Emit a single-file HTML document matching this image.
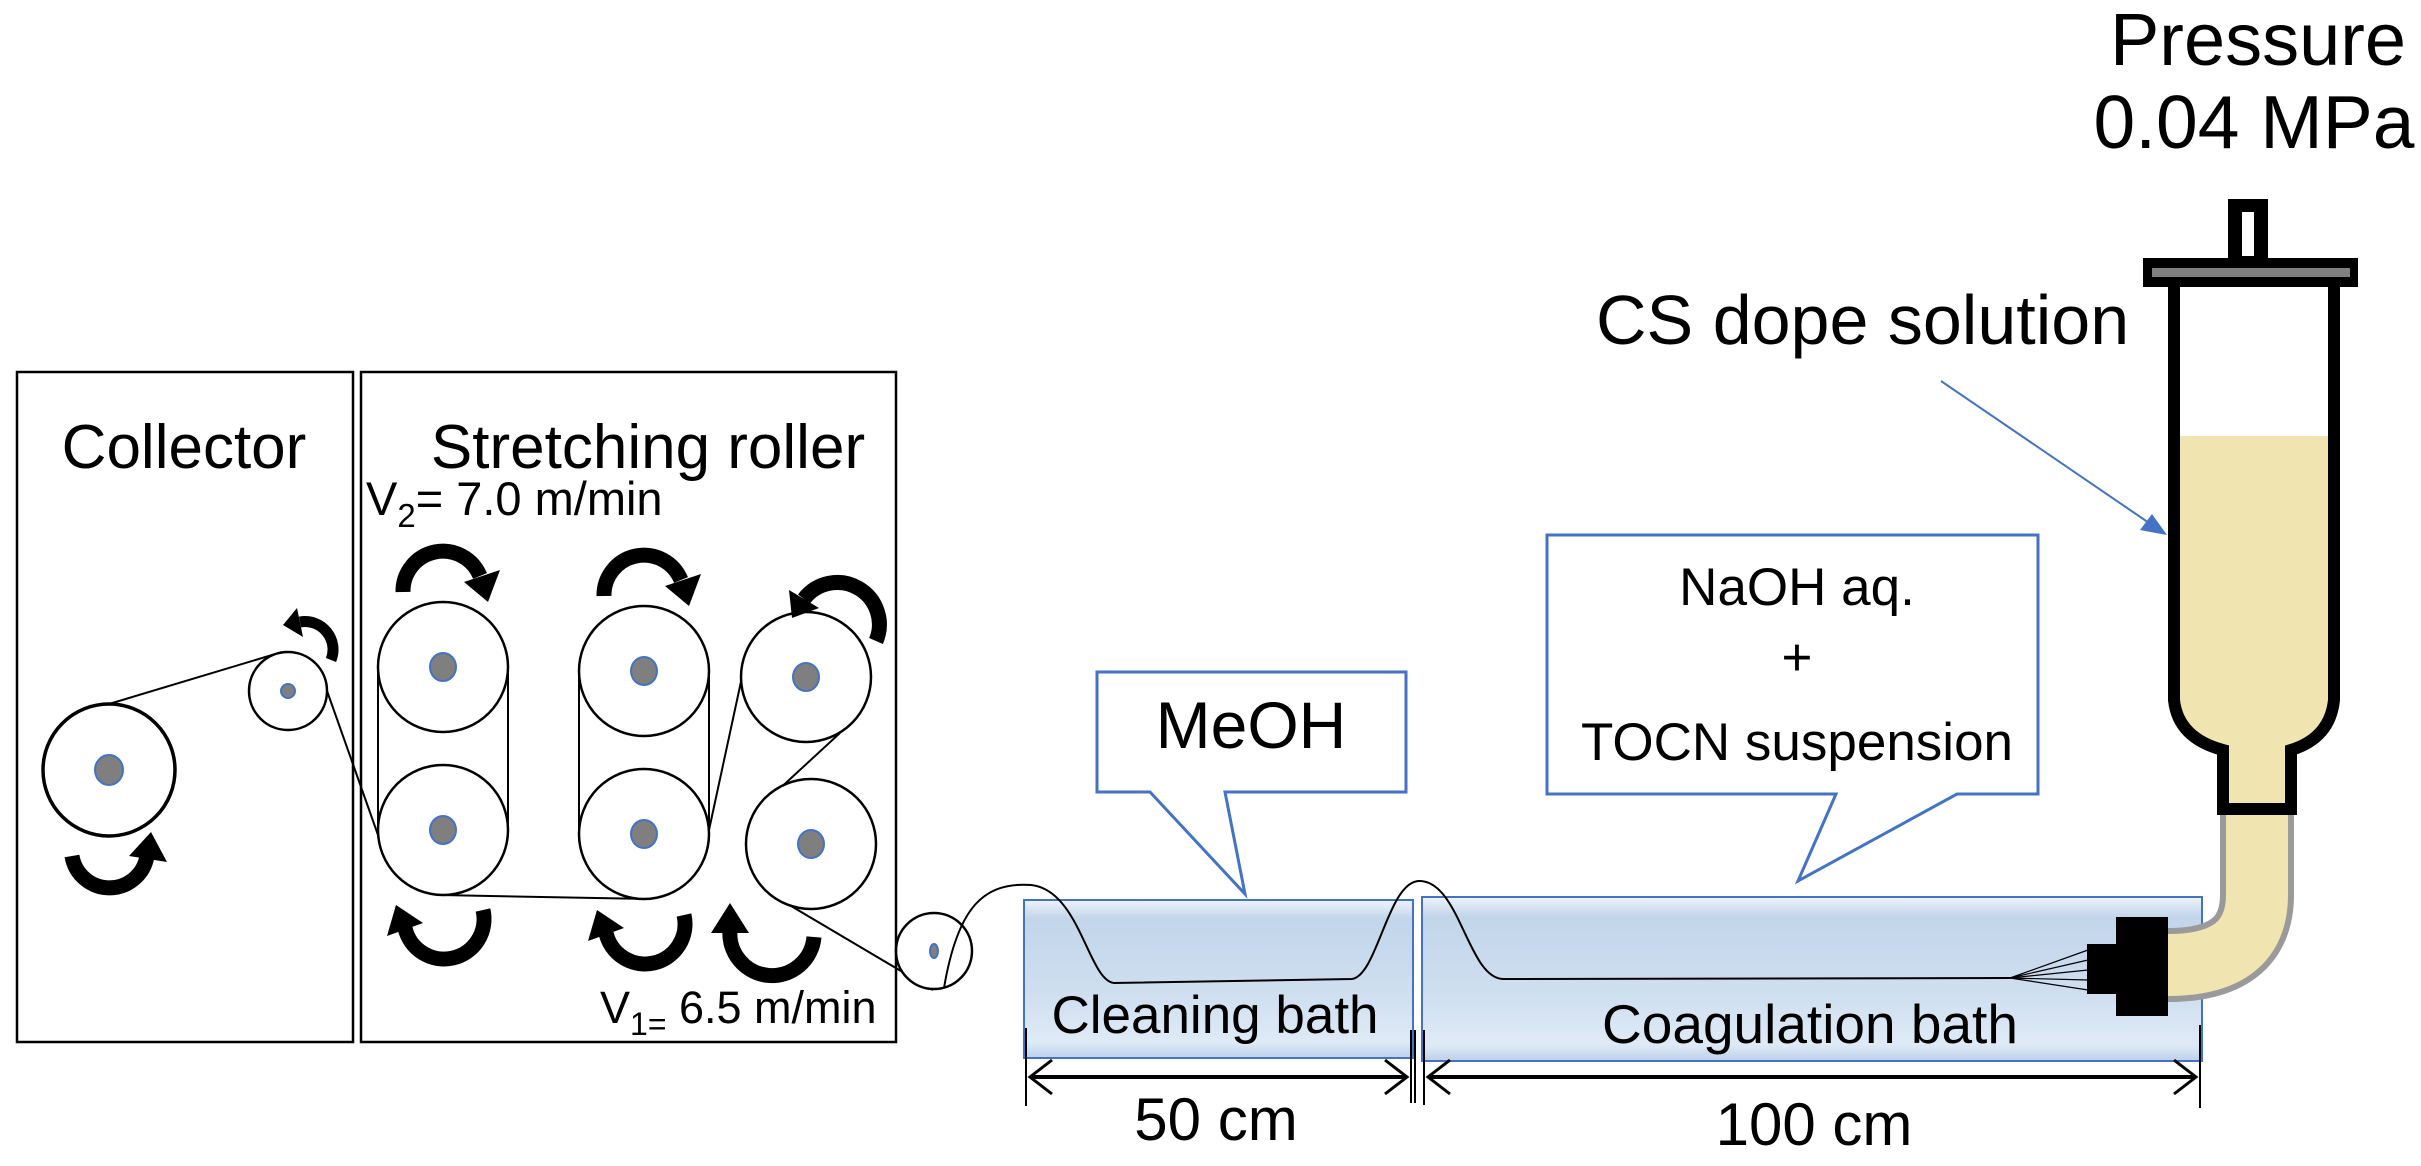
<!DOCTYPE html>
<html><head><meta charset="utf-8"><style>
html,body{margin:0;padding:0;background:#fff;}
svg{display:block;}
text{font-family:"Liberation Sans",Arial,sans-serif;fill:#000;}
</style></head><body>
<svg width="2421" height="1166" viewBox="0 0 2421 1166" xmlns="http://www.w3.org/2000/svg">
<defs>
<linearGradient id="bath" x1="0" y1="0" x2="0" y2="1">
<stop offset="0" stop-color="#eef3fa"/>
<stop offset="0.12" stop-color="#c2d5ea"/>
<stop offset="0.6" stop-color="#cfdff0"/>
<stop offset="0.9" stop-color="#dfeaf6"/>
<stop offset="1" stop-color="#bcd1e9"/>
</linearGradient>
</defs>

<!-- boxes -->
<rect x="17" y="372" width="336" height="670" fill="none" stroke="#000" stroke-width="2.5"/>
<rect x="361" y="372" width="535" height="670" fill="none" stroke="#000" stroke-width="2.5"/>
<text x="184" y="468" font-size="62" text-anchor="middle">Collector</text>
<text x="648" y="468" font-size="62" text-anchor="middle">Stretching roller</text>
<text x="366" y="515" font-size="47">V<tspan font-size="33" dy="12">2</tspan><tspan dy="-12">= 7.0 m/min</tspan></text>
<text x="600" y="1023" font-size="45">V<tspan font-size="32" dy="12">1=</tspan><tspan dy="-12"> 6.5 m/min</tspan></text>

<!-- belts / fiber lines -->
<g stroke="#000" stroke-width="2" fill="none">
<line x1="378" y1="667" x2="378" y2="830"/>
<line x1="508" y1="667" x2="508" y2="830"/>
<line x1="579" y1="671" x2="579" y2="834"/>
<line x1="709" y1="671" x2="709" y2="834"/>
<line x1="709" y1="830" x2="742" y2="677"/>
<line x1="840" y1="733" x2="776" y2="792"/>
<line x1="786" y1="903" x2="933" y2="990"/>
<line x1="440" y1="895" x2="646" y2="899"/>
<line x1="326" y1="688" x2="378" y2="835"/>
<line x1="109" y1="704" x2="282" y2="652"/>
</g>

<!-- rollers -->
<g stroke="#000" stroke-width="2.5" fill="#fff">
<circle cx="109" cy="770" r="66" stroke-width="3.5"/>
<circle cx="288" cy="691" r="39"/>
<circle cx="443" cy="667" r="65"/>
<circle cx="443" cy="830" r="65"/>
<circle cx="644" cy="671" r="65"/>
<circle cx="644" cy="834" r="65"/>
<circle cx="806" cy="677" r="65"/>
<circle cx="811" cy="844" r="65"/>
<circle cx="934" cy="951" r="38"/>
</g>
<g fill="#7f7f7f" stroke="#4472c4" stroke-width="2">
<ellipse cx="109" cy="770" rx="14" ry="15"/>
<ellipse cx="288" cy="691" rx="7" ry="7"/>
<ellipse cx="443" cy="667" rx="13" ry="14"/>
<ellipse cx="443" cy="830" rx="13" ry="14"/>
<ellipse cx="644" cy="671" rx="13" ry="14"/>
<ellipse cx="644" cy="834" rx="13" ry="14"/>
<ellipse cx="806" cy="677" rx="13" ry="14"/>
<ellipse cx="811" cy="844" rx="13" ry="14"/>
<ellipse cx="934" cy="951" rx="4" ry="7"/>
</g>

<!-- curved arrows -->
<g stroke="#000" stroke-width="15" fill="none">
<path d="M403,592 A40,40 0 0 1 480,576"/>
<path d="M604,596 A40,40 0 0 1 681,580"/>
<path d="M876,641 A42,42 0 0 0 804,599"/>
<path d="M483,910 A40,40 0 0 1 405,928"/>
<path d="M684,915 A40,40 0 0 1 606,933"/>
<path d="M814,937 A42,42 0 0 1 730,930"/>
<path d="M72,856 A38,38 0 0 0 147,856"/>
<path d="M331,660 A28,28 0 0 0 300,622" stroke-width="11"/>
</g>
<g fill="#000">
<polygon points="488,602 500,570 464,582"/>
<polygon points="689,606 701,574 665,586"/>
<polygon points="792,618 789,590 819,608"/>
<polygon points="396,905 387,936 423,923"/>
<polygon points="597,910 588,941 624,928"/>
<polygon points="730,903 711,933 749,933"/>
<polygon points="151,832 167,862 129,856"/>
<polygon points="283,625 297,608 303,637"/>
</g>

<!-- baths -->
<rect x="1024" y="900" width="389" height="158" fill="url(#bath)" stroke="#4472c4" stroke-width="2"/>
<rect x="1422" y="897" width="780" height="164" fill="url(#bath)" stroke="#4472c4" stroke-width="2"/>
<text x="1215" y="1033" font-size="53" text-anchor="middle">Cleaning bath</text>
<text x="1810" y="1043" font-size="55" text-anchor="middle">Coagulation bath</text>

<!-- callouts -->
<path d="M1097,672 H1406 V792 H1225 L1245,894 L1150,792 H1097 Z" fill="#fff" stroke="#4472c4" stroke-width="3"/>
<text x="1251" y="748" font-size="66" text-anchor="middle">MeOH</text>
<path d="M1547,535 H2038 V794 H1957 L1798,881 L1836,794 H1547 Z" fill="#fff" stroke="#4472c4" stroke-width="3"/>
<text x="1797" y="605" font-size="53" text-anchor="middle">NaOH aq.</text>
<text x="1797" y="675" font-size="53" text-anchor="middle">+</text>
<text x="1797" y="760" font-size="53" text-anchor="middle">TOCN suspension</text>

<!-- fiber -->
<path d="M944,988 C958,905 985,882 1031,885 C1080,890 1088,980 1114,983 L1352,979 C1378,975 1388,880 1420,881 C1460,882 1468,978 1503,979 L2010,978" fill="none" stroke="#000" stroke-width="2"/>
<g stroke="#000" stroke-width="1.2">
<line x1="2010" y1="978" x2="2088" y2="950"/>
<line x1="2010" y1="978" x2="2088" y2="960"/>
<line x1="2010" y1="978" x2="2088" y2="970"/>
<line x1="2010" y1="978" x2="2088" y2="980"/>
<line x1="2010" y1="978" x2="2088" y2="990"/>
</g>

<!-- dimension lines -->
<g stroke="#000" fill="none">
<line x1="1026" y1="1028" x2="1026" y2="1106" stroke-width="2"/>
<line x1="1411" y1="1030" x2="1411" y2="1103" stroke-width="2"/>
<line x1="1415" y1="1030" x2="1415" y2="1103" stroke-width="2"/>
<line x1="1424" y1="1030" x2="1424" y2="1105" stroke-width="2"/>
<line x1="2200" y1="1025" x2="2200" y2="1108" stroke-width="2"/>
<line x1="1030" y1="1077" x2="1407" y2="1077" stroke-width="4"/>
<line x1="1428" y1="1077" x2="2196" y2="1077" stroke-width="4"/>
<polyline points="1052,1060 1030,1077 1052,1094" stroke-width="3"/>
<polyline points="1385,1060 1407,1077 1385,1094" stroke-width="3"/>
<polyline points="1450,1060 1428,1077 1450,1094" stroke-width="3"/>
<polyline points="2174,1060 2196,1077 2174,1094" stroke-width="3"/>
</g>
<text x="1216" y="1140" font-size="60" text-anchor="middle">50 cm</text>
<text x="1814" y="1145" font-size="60" text-anchor="middle">100 cm</text>

<!-- syringe -->
<text x="2258" y="65" font-size="74" text-anchor="middle">Pressure</text>
<text x="2254" y="148" font-size="75" text-anchor="middle">0.04 MPa</text>
<text x="1596" y="344" font-size="70">CS dope solution</text>
<line x1="1941" y1="381" x2="2155" y2="527" stroke="#4472c4" stroke-width="2"/>
<polygon points="2167,535 2140,530 2152,514" fill="#4472c4"/>

<path d="M2257,812 L2257,895 Q2257,965 2168,965" fill="none" stroke="#9a9a9a" stroke-width="74"/>
<path d="M2257,812 L2257,895 Q2257,965 2168,965" fill="none" stroke="#f0e4b0" stroke-width="62"/>
<path d="M2180,436 L2328,436 L2328,700 Q2325,735 2291,748 L2223,748 Q2183,735 2180,700 Z" fill="#f0e4b0"/>
<rect x="2223" y="745" width="68" height="62" fill="#f0e4b0"/>
<g stroke="#000" stroke-width="12" fill="none">
<path d="M2174,287 L2174,700 Q2178,738 2223,750 L2223,810"/>
<path d="M2334,287 L2334,700 Q2330,738 2291,750 L2291,810"/>
</g>
<rect x="2217" y="803" width="80" height="12" fill="#000"/>
<rect x="2228" y="199" width="40" height="62" fill="#000"/>
<rect x="2242" y="212" width="12" height="44" fill="#fff"/>
<rect x="2143" y="258" width="215" height="29" fill="#000"/>
<rect x="2152" y="268" width="198" height="9" fill="#808080"/>
<rect x="2116" y="917" width="52" height="99" fill="#000"/>
<rect x="2087" y="944" width="30" height="50" fill="#000"/>
</svg>
</body></html>
